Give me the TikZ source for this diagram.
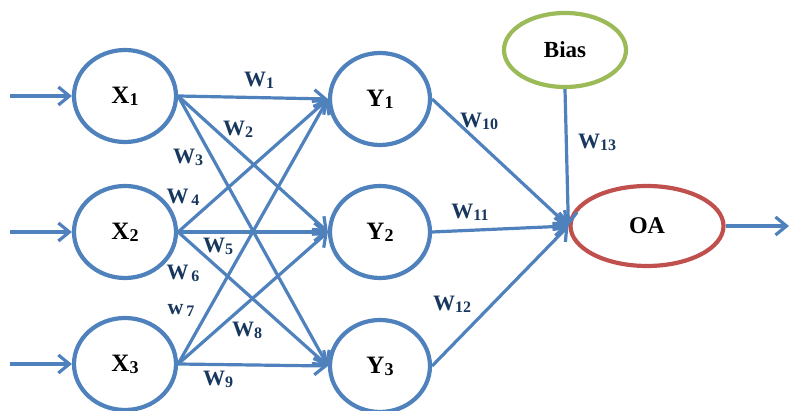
\documentclass[tikz,border=0pt]{standalone}
\usepackage{fontspec}
\setmainfont{Liberation Serif}
\usetikzlibrary{shapes.geometric,arrows.meta}
\definecolor{nblue}{HTML}{4F81BD}
\definecolor{ngreen}{HTML}{9BBB59}
\definecolor{nred}{HTML}{C0504D}
\definecolor{navy}{HTML}{17375E}
\newcommand{\wlab}[2]{{\fontsize{22}{24}\selectfont\bfseries #1\raisebox{-2pt}{\fontsize{16}{17}\selectfont #2}}}
\newcommand{\nlab}[2]{{\fontsize{25}{27}\selectfont\bfseries #1\raisebox{-2pt}{\fontsize{18}{19}\selectfont #2}}}
\tikzset{
  neuron/.style={ellipse, draw=nblue, line width=4.2pt, inner sep=0pt, minimum width=102pt, minimum height=92pt},
  conn/.style={draw=nblue, line width=3.2pt, -{Straight Barb[length=11pt,width=18pt,line width=3.2pt]}},
  wl/.style={text=navy, inner sep=0pt},
}
\begin{document}
\begin{tikzpicture}[x=1pt,y=1pt]
\useasboundingbox (0,0) rectangle (789,411);
\node[neuron] (x1) at (125,315) {\nlab{X}{1}};
\node[neuron] (x2) at (125,179) {\nlab{X}{2}};
\node[neuron] (x3) at (125,47) {\nlab{X}{3}};
\node[neuron, minimum width=100pt] (y1) at (380,312) {\nlab{Y}{1}};
\node[neuron, minimum width=100pt] (y2) at (380,179) {\nlab{Y}{2}};
\node[neuron, minimum width=100pt] (y3) at (380,45) {\nlab{Y}{3}};
\node[ellipse, draw=ngreen, line width=4.2pt, inner sep=0pt, minimum width=122pt, minimum height=74pt] (bias) at (565,361) {\fontsize{23}{25}\selectfont\bfseries Bias};
\node[ellipse, draw=nred, line width=4.2pt, inner sep=0pt, minimum width=153pt, minimum height=80pt] (oa) at (647,185) {\fontsize{24}{26}\selectfont\bfseries OA};
\coordinate (i1) at (10,315);
\coordinate (i2) at (10,179);
\coordinate (i3) at (10,47);
\coordinate (out) at (789,185);
\draw[conn] (i1) -- (x1.west);
\draw[conn] (i2) -- (x2.west);
\draw[conn] (i3) -- (x3.west);
\foreach \a in {x1,x2,x3}{
  \foreach \b in {y1,y2,y3}{
    \draw[conn] (\a.east) -- (\b.west);
  }
}
\draw[conn] (y1.east) -- (oa.west);
\draw[conn] (y2.east) -- (oa.west);
\draw[conn] (y3.east) -- (oa.west);
\draw[conn] (bias.south) -- (oa.west);
\draw[conn] (oa.east) -- (out);
\node[wl] (w1) at (259,331) {\wlab{W}{1}};
\node[wl] (w2) at (238,282) {\wlab{W}{2}};
\node[wl] (w3) at (188,254) {\wlab{W}{3}};
\node[wl] (w4) at (183,214) {\wlab{W}{\,4}};
\node[wl] (w5) at (218,165) {\wlab{W}{5}};
\node[wl] (w6) at (183,138) {\wlab{W}{\,6}};
\node[wl] (w7) at (181,101) {\wlab{w}{\,7}};
\node[wl] (w8) at (247,81) {\wlab{W}{8}};
\node[wl] (w9) at (218,32) {\wlab{W}{9}};
\node[wl] (w10) at (479,290) {\wlab{W}{10}};
\node[wl] (w11) at (470,199) {\wlab{W}{11}};
\node[wl] (w12) at (452,107) {\wlab{W}{12}};
\node[wl] (w13) at (597,269) {\wlab{W}{13}};
\end{tikzpicture}
\end{document}
